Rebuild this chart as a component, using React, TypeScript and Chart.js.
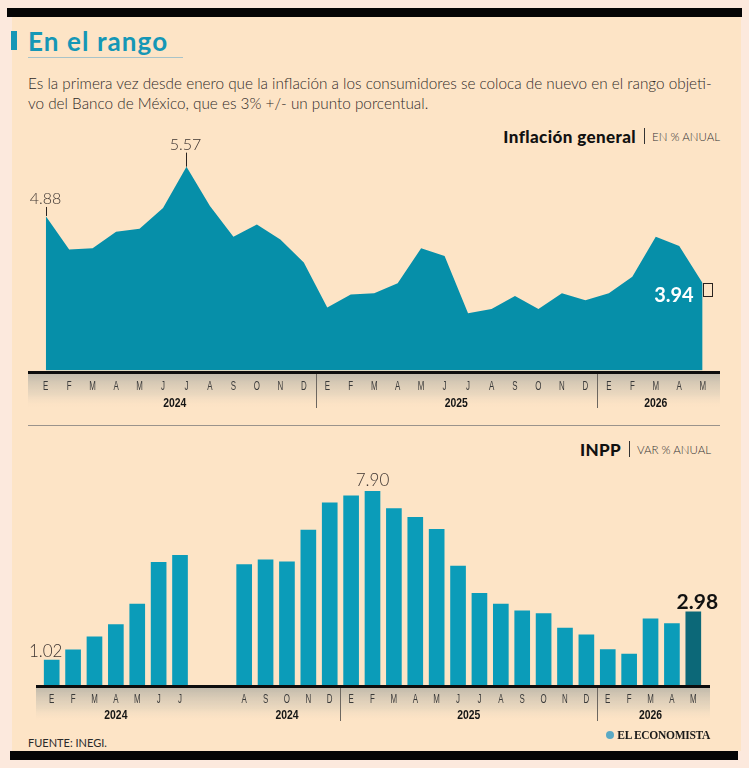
import React, { useEffect, useRef } from "react";
import { Chart, registerables } from "chart.js";

Chart.register(...registerables);

// Inflación general (% anual), enero 2024 – mayo 2026
const cpiMonths = [
  "E", "F", "M", "A", "M", "J", "J", "A", "S", "O", "N", "D",
  "E", "F", "M", "A", "M", "J", "J", "A", "S", "O", "N", "D",
  "E", "F", "M", "A", "M",
];
const cpiValues = [
  4.88, 4.41, 4.43, 4.66, 4.70, 4.99, 5.57, 5.02, 4.59, 4.76, 4.55, 4.23,
  3.60, 3.78, 3.80, 3.94, 4.43, 4.32, 3.52, 3.58, 3.76, 3.58, 3.80, 3.70,
  3.80, 4.03, 4.59, 4.46, 3.94,
];
const cpiYears = ["2024", "2025", "2026"];
const cpiYearLengths = [12, 12, 5];

// INPP (var % anual); the two blank slots separate the July and August 2024 bars
const ppiMonths = [
  "E", "F", "M", "A", "M", "J", "J", "", "", "A", "S", "O", "N", "D",
  "E", "F", "M", "A", "M", "J", "J", "A", "S", "O", "N", "D",
  "E", "F", "M", "A", "M",
];
const ppiValues: (number | null)[] = [
  1.02, 1.43, 1.96, 2.46, 3.30, 5.00, 5.29, null, null, 4.91, 5.10, 5.02, 6.32, 7.43,
  7.71, 7.90, 7.19, 6.84, 6.35, 4.85, 3.74, 3.30, 3.02, 2.91, 2.32, 2.05,
  1.44, 1.26, 2.70, 2.50, 2.98,
];
const ppiYears = ["2024", "2024", "2025", "2026"];
const ppiYearRanges = [[0, 6], [9, 13], [14, 25], [26, 30]];

const AREA = "#068fa9";
const BAR = "#0b9cb9";
const BAR_LAST = "#0c6878";
const TEAL = "#1597b6";
const INK = "#3d3431";

function narrowText(ctx: CanvasRenderingContext2D, text: string, cx: number, cy: number, font: string, sx: number, color: string) {
  ctx.save();
  ctx.translate(cx, cy);
  ctx.scale(sx, 1);
  ctx.font = font;
  ctx.fillStyle = color;
  ctx.textAlign = "center";
  ctx.textBaseline = "middle";
  ctx.fillText(text, 0, 0);
  ctx.restore();
}

function axisBand(ctx: CanvasRenderingContext2D, left: number, right: number, lineY: number, depth: number) {
  const g = ctx.createLinearGradient(0, lineY + 3, 0, lineY + 3 + depth);
  g.addColorStop(0, "rgba(135,145,145,0.5)");
  g.addColorStop(0.6, "rgba(180,180,170,0.25)");
  g.addColorStop(1, "rgba(253,228,198,0)");
  ctx.fillStyle = g;
  ctx.fillRect(left, lineY + 3, right - left, depth);
  ctx.fillStyle = "#0d0d0d";
  ctx.fillRect(left, lineY, right - left, 3);
}

function separator(ctx: CanvasRenderingContext2D, x: number, y0: number, y1: number) {
  ctx.save();
  ctx.strokeStyle = "#6d6760";
  ctx.lineWidth = 1;
  ctx.beginPath();
  ctx.moveTo(Math.round(x) + 0.5, y0);
  ctx.lineTo(Math.round(x) + 0.5, y1);
  ctx.stroke();
  ctx.restore();
}

const MONTH_FONT = '12px "Liberation Sans", Arial, sans-serif';
const YEAR_FONT = 'bold 13px "Liberation Sans", Arial, sans-serif';

const cpiDecor = {
  id: "cpiDecor",
  afterDatasetsDraw(chart: any) {
    const { ctx, scales } = chart;
    const x = scales.x;
    const y = scales.y;
    const lineY = chart.chartArea.bottom + 0.6;
    axisBand(ctx, 28, 720, lineY, 34);

    cpiMonths.forEach((m, i) => {
      narrowText(ctx, m, x.getPixelForValue(i), lineY + 16, MONTH_FONT, 0.66, "#3a3a3a");
    });
    let start = 0;
    cpiYears.forEach((yr, k) => {
      const end = start + cpiYearLengths[k] - 1;
      const cx = (x.getPixelForValue(start) + x.getPixelForValue(end)) / 2;
      narrowText(ctx, yr, cx, lineY + 32, YEAR_FONT, 0.8, "#151515");
      if (k < cpiYears.length - 1) {
        const sx = (x.getPixelForValue(end) + x.getPixelForValue(end + 1)) / 2;
        separator(ctx, sx, lineY + 3, lineY + 37);
      }
      start = end + 1;
    });

    // value callouts
    ctx.save();
    ctx.strokeStyle = "#2a2320";
    ctx.lineWidth = 1;
    const first = 0;
    const peak = cpiValues.indexOf(Math.max(...cpiValues));
    const last = cpiValues.length - 1;
    ctx.font = '300 16px Lato, "Open Sans", sans-serif';
    ctx.fillStyle = INK;
    ctx.textAlign = "center";
    ctx.textBaseline = "middle";
    [[first, 9, 17], [peak, 14, 21.5]].forEach(([i, tick, gap]) => {
      const px = Math.round(x.getPixelForValue(i)) + 0.5;
      const py = y.getPixelForValue(cpiValues[i]);
      ctx.beginPath();
      ctx.moveTo(px, py);
      ctx.lineTo(px, py - tick);
      ctx.stroke();
      ctx.fillText(cpiValues[i].toFixed(2), px - 1, py - gap);
    });
    const lx = x.getPixelForValue(last);
    const ly = y.getPixelForValue(cpiValues[last]);
    ctx.strokeRect(Math.round(lx) + 0.5, Math.round(ly) + 0.5, 9, 13);
    ctx.font = 'bold 20px Lato, "Open Sans", sans-serif';
    ctx.fillStyle = "#ffffff";
    ctx.textAlign = "right";
    ctx.fillText(cpiValues[last].toFixed(2), lx - 9, ly + 12);
    ctx.restore();
  },
};

const ppiDecor = {
  id: "ppiDecor",
  afterDatasetsDraw(chart: any) {
    const { ctx, scales } = chart;
    const x = scales.x;
    const y = scales.y;
    const lineY = chart.chartArea.bottom;
    axisBand(ctx, 36, 710, lineY, 33);

    ppiMonths.forEach((m, i) => {
      if (m) narrowText(ctx, m, x.getPixelForValue(i), lineY + 15, MONTH_FONT, 0.66, "#3a3a3a");
    });
    ppiYearRanges.forEach(([a, b], k) => {
      const cx = (x.getPixelForValue(a) + x.getPixelForValue(b)) / 2;
      narrowText(ctx, ppiYears[k], cx, lineY + 30, YEAR_FONT, 0.8, "#151515");
      const next = ppiYearRanges[k + 1];
      if (next && next[0] === b + 1) {
        const sx = (x.getPixelForValue(b) + x.getPixelForValue(b + 1)) / 2;
        separator(ctx, sx, lineY + 3, lineY + 36);
      }
    });

    const vals = ppiValues.map((v) => (v == null ? -Infinity : v));
    const first = 0;
    const peak = vals.indexOf(Math.max(...vals));
    const last = ppiValues.length - 1;
    ctx.save();
    ctx.textAlign = "center";
    ctx.textBaseline = "middle";
    ctx.fillStyle = INK;
    ctx.font = '300 17px Lato, "Open Sans", sans-serif';
    const v0 = ppiValues[first] as number;
    ctx.fillText(v0.toFixed(2), x.getPixelForValue(first) - 6, y.getPixelForValue(v0) - 8);
    const vp = ppiValues[peak] as number;
    ctx.fillText(vp.toFixed(2), x.getPixelForValue(peak), y.getPixelForValue(vp) - 10.5);
    const vl = ppiValues[last] as number;
    ctx.font = 'bold 21px Lato, "Open Sans", sans-serif';
    ctx.fillStyle = "#111111";
    ctx.fillText(vl.toFixed(2), x.getPixelForValue(last) + 4, y.getPixelForValue(vl) - 10);
    ctx.restore();
  },
};

export default function App() {
  const cpiRef = useRef<HTMLCanvasElement>(null);
  const ppiRef = useRef<HTMLCanvasElement>(null);

  useEffect(() => {
    const cpiChart = new Chart(cpiRef.current as HTMLCanvasElement, {
      type: "line",
      data: {
        labels: cpiMonths,
        datasets: [
          {
            data: cpiValues,
            fill: "start",
            backgroundColor: AREA,
            borderColor: AREA,
            borderWidth: 0,
            pointRadius: 0,
            tension: 0,
          },
        ],
      },
      options: {
        responsive: false,
        animation: false,
        devicePixelRatio: 1,
        layout: { padding: { left: 45.7, right: 46.3, top: 15.9, bottom: 49.6 } },
        scales: {
          x: { display: false, offset: false },
          y: { display: false, min: 2.72, max: 6 },
        },
        plugins: { legend: { display: false }, tooltip: { enabled: false } },
      },
      plugins: [cpiDecor],
    } as any);

    const ppiChart = new Chart(ppiRef.current as HTMLCanvasElement, {
      type: "bar",
      data: {
        labels: ppiMonths,
        datasets: [
          {
            data: ppiValues,
            backgroundColor: ppiValues.map((_, i) => (i === ppiValues.length - 1 ? BAR_LAST : BAR)),
            borderWidth: 0,
            barThickness: 15,
          },
        ],
      },
      options: {
        responsive: false,
        animation: false,
        devicePixelRatio: 1,
        layout: { padding: { left: 41, right: 45, top: 34.3, bottom: 45 } },
        scales: {
          x: { display: false, offset: true },
          y: { display: false, min: 0, max: 9 },
        },
        plugins: { legend: { display: false }, tooltip: { enabled: false } },
      },
      plugins: [ppiDecor],
    } as any);

    return () => {
      cpiChart.destroy();
      ppiChart.destroy();
    };
  }, []);

  const abs = (s: React.CSSProperties): React.CSSProperties => ({ position: "absolute", ...s });
  const sans = 'Lato, "Open Sans", sans-serif';

  return (
    <div style={abs({ left: 0, top: 0, width: 749, height: 768, background: "#fce9dd", overflow: "hidden", fontFamily: sans })}>
      <div style={abs({ left: 12, top: 17, width: 729, height: 734, background: "#fde4c6" })} />
      <div style={abs({ left: 7, top: 8, width: 735, height: 9, background: "#050505" })} />
      <div style={abs({ left: 10, top: 751, width: 728, height: 9, background: "#050505" })} />

      <div style={abs({ left: 11, top: 31, width: 6, height: 19, background: TEAL })} />
      <div style={abs({ left: 28, top: 27, fontSize: 26, lineHeight: "29px", fontWeight: 700, letterSpacing: 1.1, color: TEAL, whiteSpace: "nowrap" })}>
        En el rango
      </div>
      <div style={abs({ left: 28, top: 57, width: 155, height: 1, background: "#a8c3c8" })} />

      <div style={abs({ left: 28, top: 74, fontSize: 15.3, lineHeight: "19.5px", fontWeight: 300, color: "#2f2a28", whiteSpace: "nowrap" })}>
        <div>Es la primera vez desde enero que la inflación a los consumidores se coloca de nuevo en el rango objeti-</div>
        <div>vo del Banco de México, que es 3% +/- un punto porcentual.</div>
      </div>

      <div style={abs({ right: 29, top: 127, height: 18, display: "flex", alignItems: "center", whiteSpace: "nowrap" })}>
        <span style={{ fontWeight: 900, fontSize: 17, letterSpacing: 0.4, color: "#111" }}>Inflación general</span>
        <span style={{ width: 1, height: 16, background: "#333", margin: "0 7px 0 8px" }} />
        <span style={{ fontWeight: 300, fontSize: 11.5, color: "#333" }}>EN % ANUAL</span>
      </div>

      <canvas ref={cpiRef} width={749} height={300} style={abs({ left: 0, top: 120, width: 749, height: 300 })} />

      <div style={abs({ left: 28, top: 425, width: 692, height: 1, background: "#9a938c" })} />

      <div style={abs({ right: 38, top: 440, height: 18, display: "flex", alignItems: "center", whiteSpace: "nowrap" })}>
        <span style={{ fontWeight: 900, fontSize: 17, letterSpacing: 0.3, color: "#111" }}>INPP</span>
        <span style={{ width: 1, height: 16, background: "#333", margin: "0 7px 0 8px" }} />
        <span style={{ fontWeight: 300, fontSize: 11.5, color: "#333" }}>VAR % ANUAL</span>
      </div>

      <canvas ref={ppiRef} width={749} height={300} style={abs({ left: 0, top: 430, width: 749, height: 300 })} />

      <div style={abs({ left: 28, top: 736, fontSize: 11, lineHeight: "14px", color: "#2a2a2a", whiteSpace: "nowrap" })}>
        FUENTE: INEGI.
      </div>
      <div style={abs({ right: 39, top: 728, height: 14, display: "flex", alignItems: "center", whiteSpace: "nowrap" })}>
        <span style={{ width: 8, height: 8, borderRadius: 4, background: "#5aa9c4", marginRight: 3 }} />
        <span style={{ fontFamily: '"Liberation Serif", "DejaVu Serif", serif', fontWeight: 700, fontSize: 11.5, color: "#1a1a1a", letterSpacing: -0.3 }}>
          EL ECONOMISTA
        </span>
      </div>
    </div>
  );
}
